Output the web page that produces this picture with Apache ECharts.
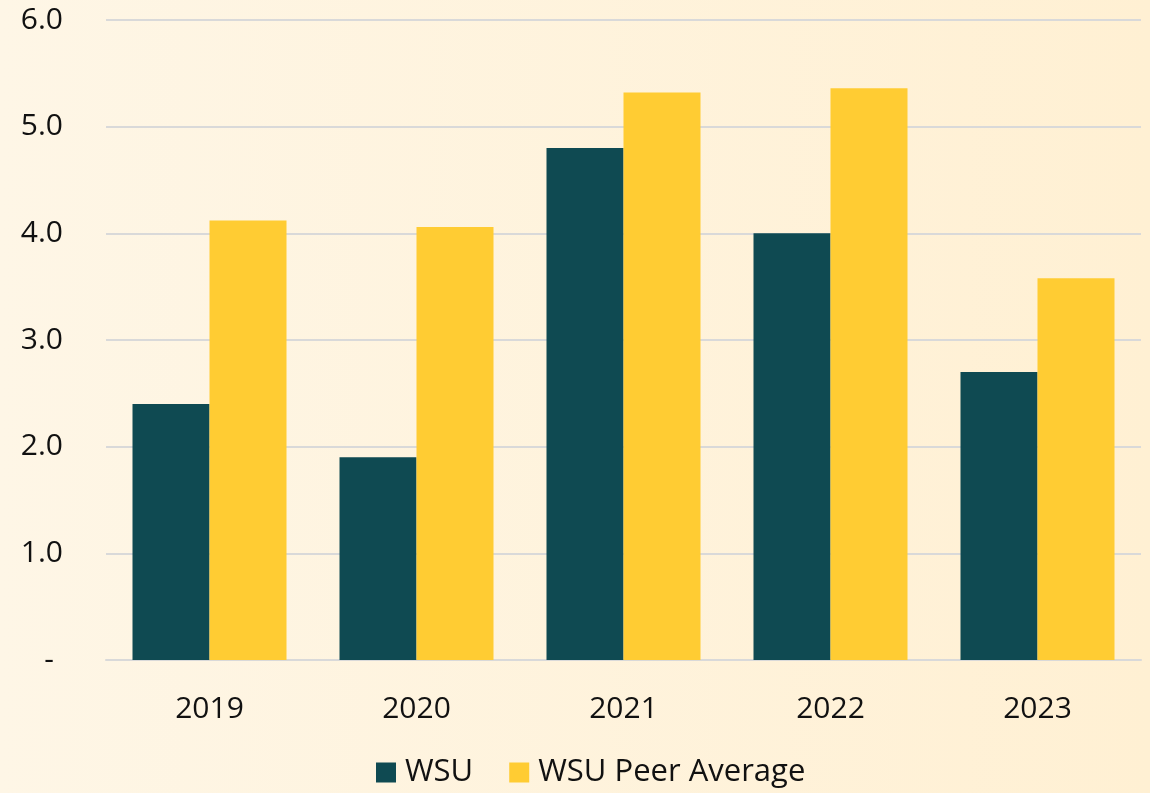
<!DOCTYPE html>
<html>
<head>
<meta charset="utf-8">
<script src="https://cdn.jsdelivr.net/npm/echarts@6/dist/echarts.min.js"></script>
<style>
  html, body { margin: 0; padding: 0; }
  #chart { width: 1150px; height: 793px; }
</style>
</head>
<body>
<div id="chart"></div>
<script>
// data
const years = ['2019', '2020', '2021', '2022', '2023']
const wsu = [2.4, 1.9, 4.8, 4.0, 2.7]
const peerAvg = [4.12, 4.06, 5.32, 5.36, 3.58]

const font = '"Open Sans", "Noto Sans", sans-serif'

const chart = echarts.init(document.getElementById('chart'))

chart.setOption({
  backgroundColor: new echarts.graphic.LinearGradient(0, 0, 1, 0, [
    { offset: 0, color: '#fef6e6' },
    { offset: 1, color: '#fff0d3' }
  ]),
  textStyle: { fontFamily: font },
  animation: false,
  grid: { left: 106, right: 9, top: 20, bottom: 133 },
  legend: {
    left: 371,
    top: 752,
    itemWidth: 20,
    itemHeight: 20,
    itemGap: 36,
    icon: 'rect',
    textStyle: { fontSize: 31, color: '#111', padding: [0, 0, 0, 4] },
    data: ['WSU', 'WSU Peer Average']
  },
  xAxis: {
    type: 'category',
    data: years,
    axisTick: { show: false },
    axisLine: { lineStyle: { color: '#d9d9d9', width: 2 } },
    axisLabel: { fontSize: 30, color: '#111', margin: 34 }
  },
  yAxis: {
    type: 'value',
    min: 0,
    max: 6,
    interval: 1,
    axisLabel: {
      fontSize: 30,
      color: '#111',
      margin: 43,
      formatter: v => v === 0 ? '{d|-}' : v.toFixed(1),
      rich: { d: { fontSize: 30, padding: [0, 9, 0, 0] } }
    },
    splitLine: { lineStyle: { color: '#d9d9d9', width: 2 } }
  },
  series: [
    {
      name: 'WSU',
      type: 'bar',
      data: wsu,
      barWidth: 77,
      barGap: '0%',
      itemStyle: { color: '#0f4a52' }
    },
    {
      name: 'WSU Peer Average',
      type: 'bar',
      data: peerAvg,
      barWidth: 77,
      itemStyle: { color: '#ffcc33' }
    }
  ]
})

window.addEventListener('resize', chart.resize)
</script>
</body>
</html>
